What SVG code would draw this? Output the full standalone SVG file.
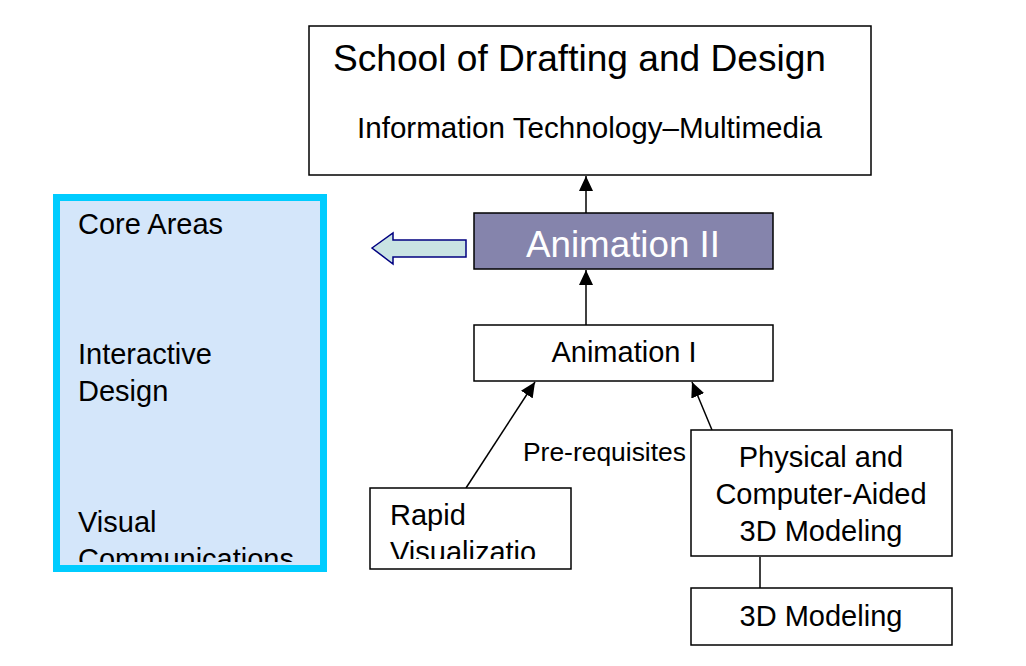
<svg xmlns="http://www.w3.org/2000/svg" width="1026" height="666" viewBox="0 0 1026 666">
<style>
.box{fill:#fff;stroke:#000;stroke-width:1.5}
.t{font-family:"Liberation Sans",Arial,sans-serif;fill:#000}
.conn{stroke:#000;stroke-width:1.5;fill:none}
</style>
<defs>
<marker id="ah" viewBox="0 0 15 14" refX="15" refY="7" markerWidth="15" markerHeight="14" markerUnits="userSpaceOnUse" orient="auto">
<path d="M0,0 L15,7 L0,14 Z" fill="#000"/>
</marker>
<clipPath id="cpCore"><rect x="60" y="200" width="261" height="362"/></clipPath>
<clipPath id="cpRapid"><rect x="371" y="489" width="199" height="70"/></clipPath>
<clipPath id="cpPhys"><rect x="692" y="431" width="259" height="117"/></clipPath>
</defs>
<rect width="1026" height="666" fill="#fff"/>

<g id="connectors">
<line class="conn" x1="586" y1="213" x2="586" y2="176" marker-end="url(#ah)"/>
<line class="conn" x1="586" y1="325" x2="586" y2="270" marker-end="url(#ah)"/>
<line class="conn" x1="466" y1="488" x2="535" y2="382" marker-end="url(#ah)"/>
<line class="conn" x1="712" y1="430" x2="692" y2="382" marker-end="url(#ah)"/>
<line class="conn" x1="760" y1="557" x2="760" y2="588"/>
<text class="t" x="523" y="461" font-size="26" textLength="163" lengthAdjust="spacingAndGlyphs">Pre-requisites</text>
</g>

<g id="school">
<rect class="box" x="309" y="26" width="562" height="149"/>
<text class="t" x="333" y="71" font-size="37" textLength="493" lengthAdjust="spacingAndGlyphs">School of Drafting and Design</text>
<text class="t" x="357" y="138" font-size="29" textLength="465" lengthAdjust="spacingAndGlyphs">Information Technology–Multimedia</text>
</g>

<g id="animation2">
<rect x="474" y="213" width="299" height="56" fill="#8584AC" stroke="#000" stroke-width="1.5"/>
<text class="t" x="526" y="257" font-size="37" textLength="194" lengthAdjust="spacingAndGlyphs" style="fill:#fff">Animation II</text>
</g>

<g id="blockarrow">
<path d="M372,248 L393,233 L393,240 L466,240 L466,257 L393,257 L393,264 Z" fill="#C9E3E3" stroke="#000080" stroke-width="1.5"/>
</g>

<g id="core">
<rect x="56.5" y="197.5" width="267" height="371" fill="#D4E6FA" stroke="#00CCFF" stroke-width="7"/>
<g clip-path="url(#cpCore)">
<text class="t" x="78" y="234" font-size="29">Core Areas</text>
<text class="t" x="78" y="364" font-size="29">Interactive</text>
<text class="t" x="78" y="401" font-size="29">Design</text>
<text class="t" x="78" y="532" font-size="29">Visual</text>
<text class="t" x="78" y="569" font-size="29">Communications</text>
</g>
</g>

<g id="animation1">
<rect class="box" x="474" y="325" width="299" height="56"/>
<text class="t" x="624" y="362" font-size="29" text-anchor="middle">Animation I</text>
</g>

<g id="rapid">
<rect class="box" x="370" y="488" width="201" height="81"/>
<g clip-path="url(#cpRapid)">
<text class="t" x="390" y="525" font-size="29">Rapid</text>
<text class="t" x="390" y="562" font-size="29">Visualizatio</text>
</g>
</g>

<g id="physical">
<rect class="box" x="691" y="430" width="261" height="126"/>
<g clip-path="url(#cpPhys)">
<text class="t" x="821" y="467" font-size="29" text-anchor="middle">Physical and</text>
<text class="t" x="821" y="504" font-size="29" text-anchor="middle">Computer-Aided</text>
<text class="t" x="821" y="541" font-size="29" text-anchor="middle">3D Modeling</text>
</g>
</g>

<g id="modeling3d">
<rect class="box" x="691" y="588" width="261" height="57"/>
<text class="t" x="821" y="626" font-size="29" text-anchor="middle">3D Modeling</text>
</g>
</svg>
